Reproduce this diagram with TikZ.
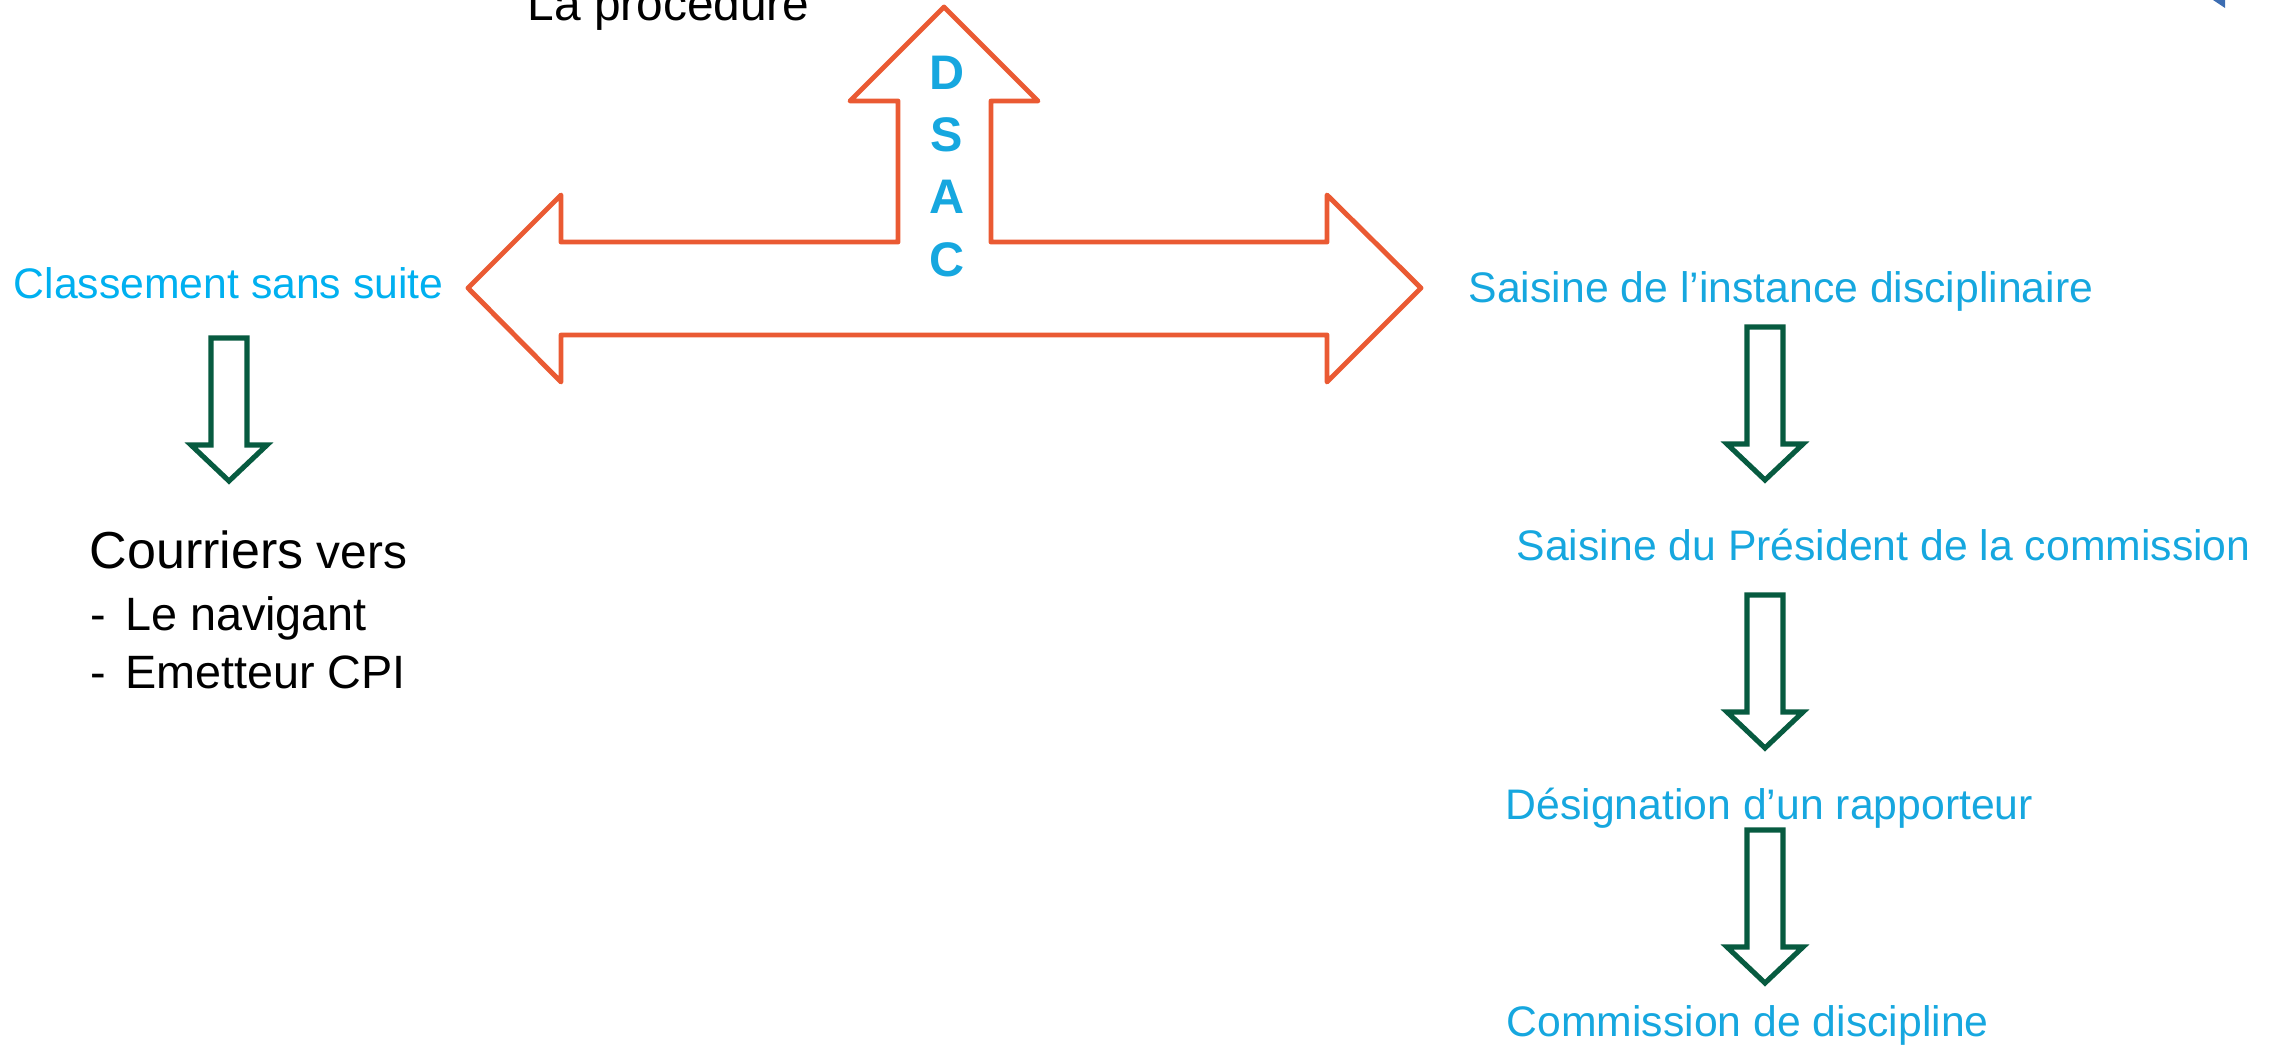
\documentclass[tikz,border=0pt]{standalone}
\usepackage{fontspec, tikz, tkz-euclide}
\setmainfont{Liberation Sans}
\definecolor{dsacorange}{HTML}{EA5A33}
\definecolor{stepgreen}{HTML}{075B40}
\definecolor{stepblue}{HTML}{16A7DF}
\definecolor{sideblue}{HTML}{00B0F0}
\definecolor{logoblue}{HTML}{3C6DB2}

\begin{document}
\begin{tikzpicture}[x=0.01cm, y=-0.01cm,
    txt/.style={inner sep=0, anchor=base west, font=\fontsize{12.15}{14}\selectfont, text=stepblue},
    bigtxt/.style={inner sep=0, anchor=base west, font=\fontsize{13.3}{16}\selectfont},
    dsacletter/.style={inner sep=0, anchor=base, text=stepblue, font=\fontsize{13.8}{16}\selectfont\bfseries},
    dsacline/.style={draw=dsacorange, line width=1.4pt, line join=round},
    greenarrow/.style={draw=stepgreen, line width=1.45pt, line join=miter}]
    \useasboundingbox (0,0) rectangle (2274,1048);
    \tkzDefPoints{944/7/U, 1038/101/Ur, 991/101/Sr, 991/242/Br, 1327/242/Rt,
        1327/195/Rh, 1421/288/R, 1327/382/Rl, 1327/335/Rb, 561/335/Lb,
        561/382/Ll, 468/288/L, 561/195/Lh, 561/242/Lt, 898/242/Bl,
        898/101/Sl, 850/101/Ul}
    \tkzDrawPolygon[dsacline](U,Ur,Sr,Br,Rt,Rh,R,Rl,Rb,Lb,Ll,L,Lh,Lt,Bl,Sl,Ul)
    \foreach \l/\y [count=\i] in {D/89, S/151, A/213, C/276}
        \node[dsacletter] (dsac\i) at (947,\y) {\l};
    \node[bigtxt, font=\fontsize{13.6}{16}\selectfont] (titre) at (527,20) {La procédure};
    \node[txt, text=sideblue] (classement) at (13,298) {Classement sans suite};
    \node[txt] (saisine) at (1468,302) {Saisine de l’instance disciplinaire};
    \node[txt] (president) at (1516,560) {Saisine du Président de la commission};
    \node[txt] (rapporteur) at (1505,819) {Désignation d’un rapporteur};
    \node[txt] (commission) at (1506,1036) {Commission de discipline};
    \node[bigtxt] (courriers) at (89,568) {{\fontsize{14.8}{17}\selectfont Courriers} {\fontsize{13.6}{16}\selectfont vers}};
    \node[bigtxt] (navigant) at (90,630) {\makebox[0.345cm][l]{-}Le navigant};
    \node[bigtxt] (emetteur) at (90,688) {\makebox[0.345cm][l]{-}Emetteur CPI};
    \foreach \cx/\ty/\tp in {229/338/481, 1765/327/480, 1765/595/748, 1765/830/983}
        \draw[greenarrow] (\cx-18,\ty) -- (\cx+18,\ty) -- (\cx+18,\tp-36) -- (\cx+38,\tp-36)
            -- (\cx,\tp) -- (\cx-38,\tp-36) -- (\cx-18,\tp-36) -- cycle;
    \fill[logoblue] (2213,0) -- (2225,0) -- (2225,8) -- cycle;
\end{tikzpicture}
\end{document}
